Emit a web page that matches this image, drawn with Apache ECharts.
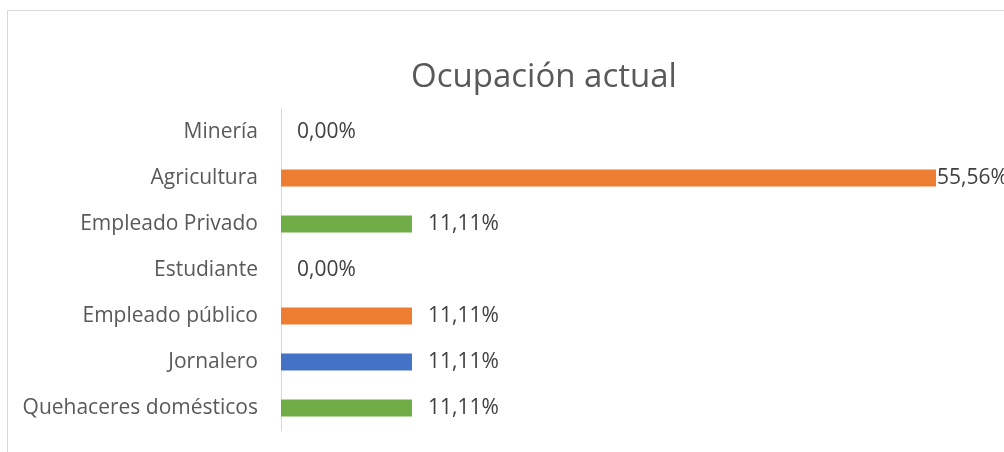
<!DOCTYPE html>
<html>
<head>
<meta charset="utf-8">
<script src="https://cdn.jsdelivr.net/npm/echarts@6/dist/echarts.min.js"></script>
<style>
  html, body { margin: 0; padding: 0; background: #fff; }
  #main { width: 1004px; height: 452px; }
</style>
</head>
<body>
<div id="main"></div>
<script>
// datos
var categorias = ['Minería', 'Agricultura', 'Empleado Privado', 'Estudiante', 'Empleado público', 'Jornalero', 'Quehaceres domésticos'];
var valores = [0, 55.56, 11.11, 0, 11.11, 11.11, 11.11];
var colores = ['#ED7D31', '#ED7D31', '#70AD47', '#4472C4', '#ED7D31', '#4472C4', '#70AD47'];

var myChart = echarts.init(document.getElementById('main'));

var serieData = valores.map(function (v, i) {
  var item = { value: v, itemStyle: { color: colores[i] } };
  if (v > 50) {
    item.label = { distance: 1 }; // etiqueta pegada a la barra
  }
  return item;
});

myChart.setOption({
  animation: false,
  textStyle: { fontFamily: 'Open Sans' },
  title: {
    text: 'Ocupación actual',
    left: 406,
    top: 56,
    textStyle: { fontFamily: 'Open Sans', fontSize: 33, fontWeight: 'normal', color: '#595959' }
  },
  graphic: [{
    type: 'rect',
    shape: { x: 7.5, y: 10.5, width: 1100, height: 500 },
    style: { fill: 'none', stroke: '#d9d9d9', lineWidth: 1 },
    silent: true
  }],
  grid: {
    left: 281,
    top: 109,
    width: 707.4,
    height: 322
  },
  xAxis: {
    type: 'value',
    min: 0,
    max: 60,
    show: false
  },
  yAxis: {
    type: 'category',
    inverse: true,
    data: categorias,
    axisLine: { lineStyle: { color: '#d9d9d9', width: 1 } },
    axisTick: { show: false },
    axisLabel: { margin: 23, fontSize: 21, color: '#595959', fontFamily: 'Open Sans' }
  },
  series: [{
    type: 'bar',
    data: serieData,
    barWidth: 17,
    label: {
      show: true,
      position: 'right',
      distance: 16,
      fontSize: 21,
      color: '#404040',
      fontFamily: 'Open Sans',
      formatter: function (p) {
        return p.value.toFixed(2).replace('.', ',') + '%';
      }
    }
  }]
});
</script>
</body>
</html>
